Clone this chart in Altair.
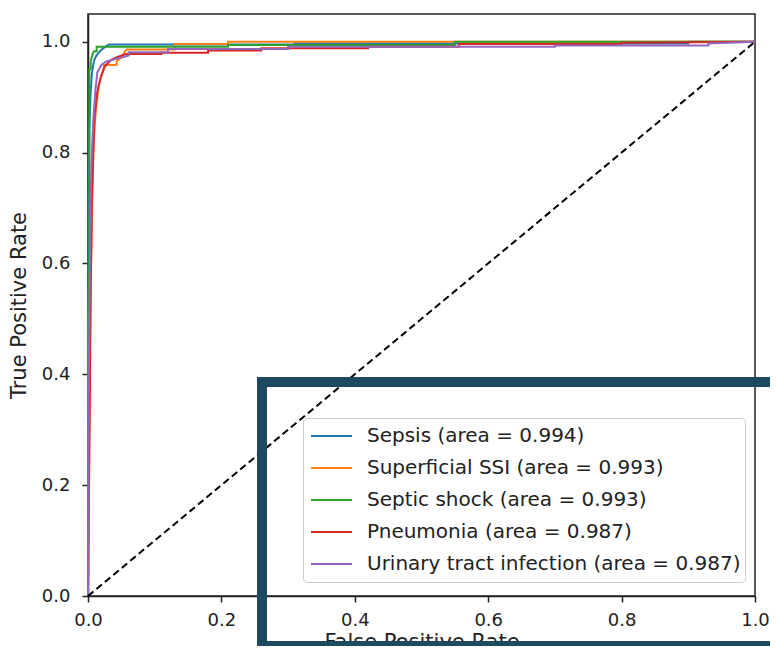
import altair as alt
import pandas as pd

labels = [
    "Sepsis (area = 0.994)",
    "Superficial SSI (area = 0.993)",
    "Septic shock (area = 0.993)",
    "Pneumonia (area = 0.987)",
    "Urinary tract infection (area = 0.987)",
]
colors = ["#1f77b4", "#ff7f0e", "#2ca02c", "#d62728", "#9467bd"]

sepsis_fpr = [0.0, 0.0, 0.001, 0.002, 0.004, 0.006, 0.009, 0.013, 0.019, 0.025, 0.031, 0.31, 0.31, 0.90, 0.90, 1.0]
sepsis_tpr = [0.0, 0.45, 0.72, 0.84, 0.91, 0.945, 0.966, 0.976, 0.984, 0.990, 0.995, 0.995, 0.997, 0.997, 1.0, 1.0]

ssi_fpr = [0.0, 0.002, 0.004, 0.006, 0.008, 0.010, 0.013, 0.016, 0.020, 0.024, 0.024, 0.043, 0.043, 0.050, 0.053, 0.058, 0.13, 0.13, 0.21, 0.21, 1.0]
ssi_tpr = [0.0, 0.30, 0.55, 0.70, 0.80, 0.85, 0.89, 0.92, 0.94, 0.95, 0.958, 0.958, 0.965, 0.972, 0.978, 0.986, 0.986, 0.996, 0.996, 1.0, 1.0]

shock_fpr = [0.0, 0.0, 0.002, 0.002, 0.004, 0.004, 0.007, 0.009, 0.013, 0.013, 0.21, 0.21, 0.55, 0.55, 1.0]
shock_tpr = [0.0, 0.50, 0.60, 0.951, 0.951, 0.965, 0.978, 0.983, 0.983, 0.991, 0.991, 0.994, 0.994, 1.0, 1.0]

pneu_fpr = [0.0, 0.002, 0.004, 0.006, 0.008, 0.010, 0.014, 0.019, 0.024, 0.030, 0.036, 0.045, 0.058, 0.11, 0.11, 0.18, 0.18, 0.26, 0.26, 0.42, 0.42, 0.556, 0.556, 0.80, 0.80, 1.0]
pneu_tpr = [0.0, 0.25, 0.55, 0.72, 0.80, 0.87, 0.91, 0.935, 0.953, 0.962, 0.968, 0.973, 0.978, 0.978, 0.980, 0.980, 0.984, 0.984, 0.988, 0.988, 0.991, 0.991, 0.996, 0.996, 0.998, 1.0]

uti_fpr = [0.0, 0.001, 0.003, 0.005, 0.008, 0.011, 0.014, 0.020, 0.027, 0.035, 0.049, 0.061, 0.061, 0.12, 0.12, 0.30, 0.30, 0.70, 0.70, 0.93, 0.93, 1.0]
uti_tpr = [0.0, 0.35, 0.62, 0.78, 0.86, 0.91, 0.945, 0.958, 0.964, 0.967, 0.971, 0.975, 0.981, 0.981, 0.987, 0.987, 0.991, 0.991, 0.993, 0.993, 0.997, 1.0]

diag = [0.0, 1.0]
x_ticks = [0.0, 0.2, 0.4, 0.6, 0.8, 1.0]
y_ticks = [0.0, 0.2, 0.4, 0.6, 0.8, 1.0]

series = [
    (sepsis_fpr, sepsis_tpr),
    (ssi_fpr, ssi_tpr),
    (shock_fpr, shock_tpr),
    (pneu_fpr, pneu_tpr),
    (uti_fpr, uti_tpr),
]
rows = []
for i, (lab, (fx, ty)) in enumerate(zip(labels, series)):
    for j, (a, b) in enumerate(zip(fx, ty)):
        rows.append({"label": lab, "k": i, "idx": j, "fpr": a, "tpr": b})
df = pd.DataFrame(rows)
diag_df = pd.DataFrame({"fpr": diag, "tpr": diag})

FONT = "DejaVu Sans"

xscale = alt.Scale(domain=[0, 1.0], nice=False, zero=False)
yscale = alt.Scale(domain=[0, 1.05], nice=False, zero=False)

xaxis = alt.Axis(values=x_ticks, format=".1f", title="False Positive Rate", grid=False,
                 labelFlush=False, labelPadding=9, titlePadding=2)
yaxis = alt.Axis(values=y_ticks, format=".1f", title="True Positive Rate", grid=False,
                 labelFlush=False, labelPadding=12, titlePadding=12)

lines = alt.Chart(df).mark_line(strokeWidth=2).encode(
    x=alt.X("fpr:Q", scale=xscale, axis=xaxis),
    y=alt.Y("tpr:Q", scale=yscale, axis=yaxis),
    color=alt.Color(
        "label:N",
        scale=alt.Scale(domain=labels, range=colors),
        legend=alt.Legend(
            title=None,
            orient="none",
            legendX=215,
            legendY=404,
            symbolType="stroke",
            symbolSize=1681,
            symbolStrokeWidth=2,
            labelFont=FONT,
            labelFontSize=20,
            labelColor="#222222",
            labelLimit=500,
            labelOffset=14,
            clipHeight=28,
            rowPadding=4,
            padding=4,
            symbolOffset=3,
            strokeColor="#cccccc",
            fillColor="white",
            cornerRadius=4,
        ),
    ),
    detail="k:N",
    order="idx:Q",
)

diag_line = alt.Chart(diag_df).mark_line(color="black", strokeWidth=2, strokeDash=[7, 4]).encode(
    x=alt.X("fpr:Q", scale=xscale),
    y=alt.Y("tpr:Q", scale=yscale),
)

box = alt.Chart(pd.DataFrame({"a": [0]})).mark_rect(
    fillOpacity=0, stroke="#1e4a5f", strokeWidth=10, clip=False
).encode(
    x=alt.value(174), x2=alt.value(720), y=alt.value(368), y2=alt.value(632)
)

chart = alt.layer(lines, diag_line, box).properties(
    width=667,
    height=582,
    padding={"left": 80, "top": 6, "right": 15, "bottom": 50},
    autosize=alt.AutoSizeParams(type="none"),
).configure_axis(
    labelFont=FONT,
    labelFontSize=18,
    labelColor="#222222",
    titleFont=FONT,
    titleFontSize=21,
    titleFontWeight="normal",
    titleColor="#222222",
    domainColor="#222222",
    domainWidth=1.5,
    tickColor="#222222",
    tickWidth=1.5,
    tickSize=6,
).configure_view(
    stroke="#222222", strokeWidth=1.5
)

chart.save("out.html", embed_options={"renderer": "svg", "actions": False})
